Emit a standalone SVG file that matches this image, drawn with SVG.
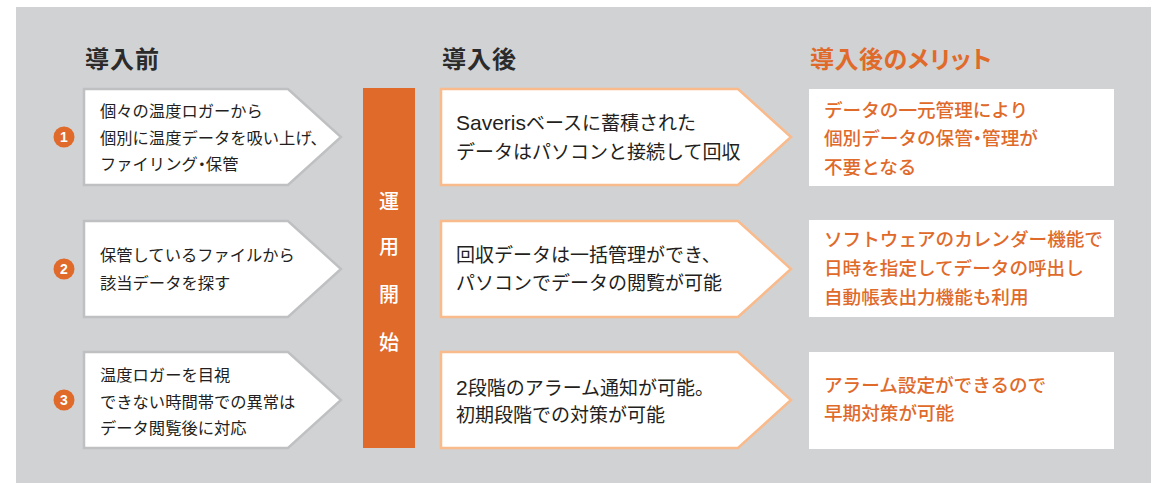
<svg xmlns="http://www.w3.org/2000/svg" width="1162" height="483" viewBox="0 0 1162 483">
<style>
text{font-family:"Noto Sans CJK JP","Noto Sans",sans-serif}
.hd{font-size:24px;font-weight:700;fill:#2b2b2b;letter-spacing:1px}
.hdo{font-size:24px;font-weight:700;fill:#e06a2a;font-feature-settings:"palt";letter-spacing:0.5px}
.lb{fill:#ffffff;stroke:#bfc0c2;stroke-width:2.5}
.mb{fill:#ffffff;stroke:#f9bb8c;stroke-width:2.5}
.rb{fill:#ffffff}
.lt{font-size:16.3px;fill:#231f20}
.mt{font-size:19px;fill:#231f20}
.lat{font-family:"Liberation Sans",sans-serif;font-size:21px}
.rt{font-size:18.6px;font-weight:500;fill:#e06a2a}
.dot{font-feature-settings:"palt"}
.num{fill:#e06a2a}
.nt{font-size:14px;font-weight:700;fill:#ffffff;text-anchor:middle;font-family:"Liberation Sans",sans-serif}
.bar{fill:#df6a29}
.bt{font-size:20px;font-weight:500;fill:#ffffff;text-anchor:middle}
</style>
<rect x="16" y="7" width="1135" height="476" fill="#d1d2d4"/>
<g id="headers">
<text class="hd" x="85" y="68">導入前</text>
<text class="hd" x="442" y="68">導入後</text>
<text class="hdo" x="810" y="68">導入後のメリット</text>
</g>
<g id="bar">
<rect class="bar" x="363" y="88" width="52" height="360"/>
<text class="bt" x="389" y="209">運</text>
<text class="bt" x="389" y="254">用</text>
<text class="bt" x="389" y="302">開</text>
<text class="bt" x="389" y="350">始</text>
</g>
<g id="before1">
<circle class="num" cx="64" cy="137" r="10.5"/>
<text class="nt" x="64" y="142">1</text>
<polygon class="lb" points="84,89 288,89 341,137 288,185 84,185"/>
<text class="lt" x="100" y="117">個々の温度ロガーから</text>
<text class="lt" x="100" y="144">個別に温度データを吸い上げ、</text>
<text class="lt" x="100" y="170">ファイリング<tspan class="dot">・</tspan>保管</text>
</g>
<g id="before2">
<circle class="num" cx="64" cy="269" r="10.5"/>
<text class="nt" x="64" y="274">2</text>
<polygon class="lb" points="84,221 288,221 341,269 288,317 84,317"/>
<text class="lt" x="100" y="261">保管しているファイルから</text>
<text class="lt" x="100" y="289">該当データを探す</text>
</g>
<g id="before3">
<circle class="num" cx="64" cy="400" r="10.5"/>
<text class="nt" x="64" y="405">3</text>
<polygon class="lb" points="84,352 288,352 341,400 288,448 84,448"/>
<text class="lt" x="100" y="381">温度ロガーを目視</text>
<text class="lt" x="100" y="408">できない時間帯での異常は</text>
<text class="lt" x="100" y="434">データ閲覧後に対応</text>
</g>
<g id="after1">
<polygon class="mb" points="441,89 738,89 791,137 738,185 441,185"/>
<text class="mt" x="456" y="130"><tspan class="lat">Saveris</tspan>ベースに蓄積された</text>
<text class="mt" x="456" y="159">データはパソコンと接続して回収</text>
</g>
<g id="after2">
<polygon class="mb" points="441,221 738,221 791,269 738,317 441,317"/>
<text class="mt" x="456" y="262">回収データは一括管理ができ、</text>
<text class="mt" x="456" y="290">パソコンでデータの閲覧が可能</text>
</g>
<g id="after3">
<polygon class="mb" points="441,352 738,352 791,400 738,448 441,448"/>
<text class="mt" x="456" y="395"><tspan class="lat">2</tspan>段階のアラーム通知が可能。</text>
<text class="mt" x="456" y="422">初期段階での対策が可能</text>
</g>
<g id="merit1">
<rect class="rb" x="809" y="89" width="305" height="97"/>
<text class="rt" x="824" y="117">データの一元管理により</text>
<text class="rt" x="824" y="145">個別データの保管<tspan class="dot">・</tspan>管理が</text>
<text class="rt" x="824" y="174">不要となる</text>
</g>
<g id="merit2">
<rect class="rb" x="809" y="220" width="305" height="97"/>
<text class="rt" x="824" y="246">ソフトウェアのカレンダー機能で</text>
<text class="rt" x="824" y="275">日時を指定してデータの呼出し</text>
<text class="rt" x="824" y="304">自動帳表出力機能も利用</text>
</g>
<g id="merit3">
<rect class="rb" x="809" y="352" width="305" height="97"/>
<text class="rt" x="824" y="392">アラーム設定ができるので</text>
<text class="rt" x="824" y="420">早期対策が可能</text>
</g>
<g id="connectors"></g>
</svg>
